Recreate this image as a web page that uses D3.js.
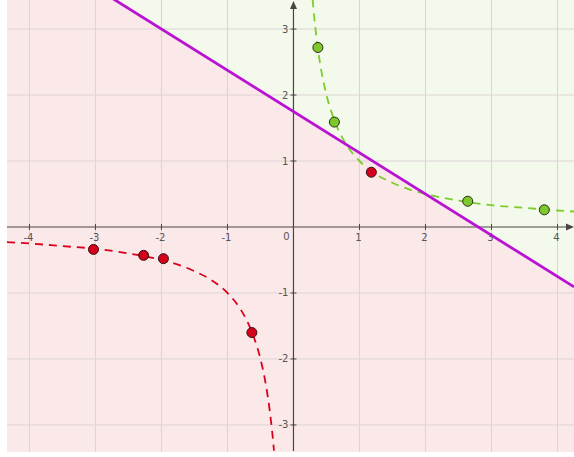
<!DOCTYPE html>
<html><head><meta charset="utf-8">
<script src="https://cdn.jsdelivr.net/npm/d3@7"></script>
<style>body{margin:0;background:#fff}svg{display:block}</style>
</head><body>
<svg id="c" width="574" height="457"></svg>
<script>
// data
const xTicks = [-4,-3,-2,-1,1,2,3,4];
const yTicks = [-3,-2,-1,1,2,3];
const lineSlope = -0.625, lineIntercept = 1.75;
const greenPtsX = [0.37,0.62,2.64,3.80];
const greenPtsY = [2.72,1.59,0.39,0.26];
const redPtsX = [-3.03,-2.27,-1.97,-0.63,1.18];
const redPtsY = [-0.34,-0.43,-0.48,-1.60,0.83];
const greenCurveX = [0.29,0.33,0.37,0.42,0.5,0.6,0.7,0.8,0.9,1,1.2,1.5,1.75,2,2.5,3,3.5,4,4.25];
const greenCurveY = [3.45,3.03,2.70,2.38,2.0,1.67,1.43,1.25,1.11,1.0,0.83,0.67,0.57,0.5,0.4,0.33,0.29,0.25,0.235];
const redCurveX = [-4.34,-4,-3.5,-3,-2.5,-2,-1.75,-1.5,-1.25,-1,-0.8,-0.7,-0.6,-0.5,-0.42,-0.36,-0.32,-0.295];
const redCurveY = [-0.23,-0.25,-0.29,-0.33,-0.4,-0.5,-0.57,-0.67,-0.8,-1.0,-1.25,-1.43,-1.67,-2.0,-2.38,-2.78,-3.13,-3.39];

const svg = d3.select('#c');
const L = 7, R = 574, T = 0, B = 452;
const x = d3.scaleLinear().domain([-4.34, 4.25]).range([L, R]);
const y = d3.scaleLinear().domain([-3.41, 3.44]).range([B, T]);
const [x0,x1] = x.domain(), [y0,y1] = y.domain();

// regions
svg.append('rect').attr('x',L).attr('y',T).attr('width',R-L).attr('height',B-T).attr('fill','#f3faeb');
const lf = v => lineIntercept + lineSlope*v;
svg.append('path').attr('fill','#fbe9ea')
  .attr('d', d3.line()([[x(x0),y(lf(x0))],[x(x1),y(lf(x1))],[x(x1),y(y0)],[x(x0),y(y0)]]));

// grid
const g = svg.append('g');
xTicks.forEach(t=>g.append('line').attr('x1',x(t)).attr('x2',x(t)).attr('y1',T).attr('y2',B).attr('stroke','#ddd3d4').attr('stroke-width',1));
yTicks.forEach(t=>g.append('line').attr('x1',L).attr('x2',R).attr('y1',y(t)).attr('y2',y(t)).attr('stroke','#ddd3d4').attr('stroke-width',1));

// axes
const ax = '#4a4444';
svg.append('line').attr('x1',L).attr('x2',R-4).attr('y1',y(0)).attr('y2',y(0)).attr('stroke',ax).attr('stroke-width',1.2);
svg.append('line').attr('x1',x(0)).attr('x2',x(0)).attr('y1',T+6).attr('y2',B-1).attr('stroke',ax).attr('stroke-width',1.2);
svg.append('path').attr('d',`M${x(0)},${T+1}L${x(0)-3.5},${T+9}L${x(0)+3.5},${T+9}Z`).attr('fill',ax);
svg.append('path').attr('d',`M${R},${y(0)}L${R-8},${y(0)-3.5}L${R-8},${y(0)+3.5}Z`).attr('fill',ax);
xTicks.forEach(t=>{
  svg.append('line').attr('x1',x(t)).attr('x2',x(t)).attr('y1',y(0)-3).attr('y2',y(0)+3).attr('stroke',ax);
  svg.append('text').attr('x',x(t)-1).attr('y',y(0)+14).attr('text-anchor','middle')
    .attr('font-family','DejaVu Sans, Verdana, sans-serif').attr('font-size',10).attr('fill','#555').text(t<0?'-'+(-t):t);
});
yTicks.forEach(t=>{
  svg.append('line').attr('x1',x(0)-3).attr('x2',x(0)+3).attr('y1',y(t)).attr('y2',y(t)).attr('stroke',ax);
  svg.append('text').attr('x',x(0)-5).attr('y',y(t)+3.5).attr('text-anchor','end')
    .attr('font-family','DejaVu Sans, Verdana, sans-serif').attr('font-size',10).attr('fill','#555').text(t<0?'-'+(-t):t);
});
svg.append('text').attr('x',x(0)-7).attr('y',y(0)+13).attr('text-anchor','middle')
  .attr('font-family','DejaVu Sans, Verdana, sans-serif').attr('font-size',10).attr('fill','#555').text('0');

// curves
const cl = d3.line().x(d=>x(d[0])).y(d=>y(d[1])).curve(d3.curveMonotoneX);
svg.append('path').attr('d',cl(greenCurveX.map((v,i)=>[v,greenCurveY[i]]))).attr('fill','none')
  .attr('stroke','#7ccc2a').attr('stroke-width',1.8).attr('stroke-dasharray','8,6');
svg.append('path').attr('d',cl(redCurveX.map((v,i)=>[v,redCurveY[i]]))).attr('fill','none')
  .attr('stroke','#d8001c').attr('stroke-width',1.8).attr('stroke-dasharray','8,6');

// separating line
svg.append('line').attr('x1',x(x0)).attr('y1',y(lf(x0))).attr('x2',x(x1)).attr('y2',y(lf(x1)))
  .attr('stroke','#b912d4').attr('stroke-width',2.8);

// points
greenPtsX.forEach((v,i)=>svg.append('circle').attr('cx',x(v)).attr('cy',y(greenPtsY[i])).attr('r',5)
  .attr('fill','#7dc92c').attr('stroke','#2a2a1a').attr('stroke-width',1));
redPtsX.forEach((v,i)=>svg.append('circle').attr('cx',x(v)).attr('cy',y(redPtsY[i])).attr('r',5)
  .attr('fill','#d4001b').attr('stroke','#3a1010').attr('stroke-width',1));

// mask outside the plot area
svg.append('rect').attr('x',0).attr('y',0).attr('width',L).attr('height',457).attr('fill','#fff');
svg.append('rect').attr('x',0).attr('y',B).attr('width',574).attr('height',457-B).attr('fill','#fff');
</script>
</body></html>
